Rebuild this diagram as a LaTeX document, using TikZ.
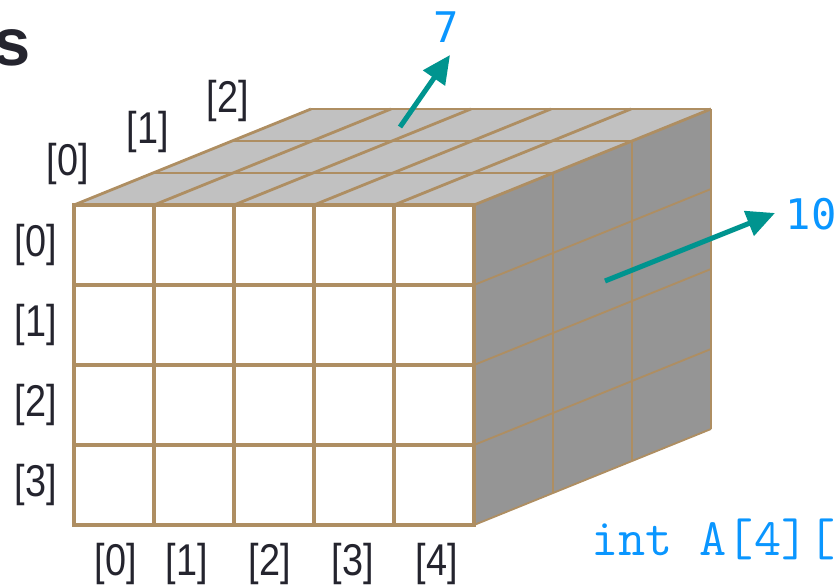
\documentclass[tikz,border=0pt]{standalone}
\usepackage{fontspec}
\setmainfont{Liberation Sans}
\newfontfamily\lblfont[FakeStretch=0.85]{Liberation Sans}
\newfontfamily\numfont{DejaVu Sans Mono}
\usetikzlibrary{arrows.meta}

\definecolor{framebrown}{HTML}{AE8E62}
\definecolor{topgray}{HTML}{C1C1C1}
\definecolor{sidegray}{HTML}{959595}
\definecolor{arrowteal}{HTML}{00948F}
\definecolor{sizeblue}{HTML}{0A96FF}
\definecolor{labelgray}{HTML}{24242E}

\begin{document}
\begin{tikzpicture}[x=0.03cm,y=-0.03cm,
  frontline/.style={draw=framebrown,line width=3.4pt,line cap=rect},
  topline/.style={draw=framebrown,line width=2.4pt},
  sideline/.style={draw=framebrown,line width=1.6pt},
  idx/.style={text=labelgray,font=\lblfont\fontsize{38}{40}\selectfont,inner sep=0pt},
  sizelbl/.style={text=sizeblue,font=\numfont\fontsize{36}{38}\selectfont,inner sep=0pt},
  sizearrow/.style={draw=arrowteal,line width=4.3pt,-{Triangle[length=24pt,width=22pt]}}]

\useasboundingbox (0,0) rectangle (838,585);

% Parameters
\def\cw{80}
\def\dx{79}
\def\dy{-32}

% Right face
\fill[sidegray] (474,205) -- ++(3*\dx,3*\dy) -- ++(0,320) -- (474,525) -- cycle;
\foreach \k in {1,2,3}
  \draw[sideline] (474+\k*\dx,205+\k*\dy) -- ++(0,320);
\foreach \j in {1,2,3,4}
  \draw[sideline] (474,205+\j*\cw) -- ++(3*\dx,3*\dy);

% Top face
\fill[topgray] (74,205) -- (474,205) -- ++(3*\dx,3*\dy) -- (74+3*\dx,205+3*\dy) -- cycle;
\foreach \k in {1,2,3}
  \draw[topline] (74+\k*\dx,205+\k*\dy) -- ++(400,0);
\foreach \i in {0,...,5}
  \draw[topline] (74+\i*\cw,205) -- ++(3*\dx,3*\dy);

% Front face
\fill[white] (74,205) rectangle (474,525);
\foreach \i in {0,...,5}
  \draw[frontline] (74+\i*\cw,205) -- ++(0,320);
\foreach \j in {0,...,4}
  \draw[frontline] (74,205+\j*\cw) -- ++(400,0);

% Index labels
\foreach \j in {0,...,3}
  \node[idx] (row\j) at (36,245+\j*\cw) {[\j]};
\foreach \i/\x in {0/116,1/187,2/270,3/353,4/437}
  \node[idx] (col\i) at (\x,564) {[\i]};
\node[idx] (dep0) at (68,164) {[0]};
\node[idx] (dep1) at (148,132) {[1]};
\node[idx] (dep2) at (228,101) {[2]};

% Sizes
\node[sizelbl] (seven) at (446,27) {7};
\node[sizelbl] (ten) at (811,214) {10};
\coordinate (t7) at (400,127);
\coordinate (h7) at (450,55);
\draw[sizearrow] (t7) -- (h7);
\coordinate (t10) at (605,281);
\coordinate (h10) at (775,213);
\draw[sizearrow] (t10) -- (h10);

% Title and declaration
\node[anchor=base east,inner sep=0pt,text=labelgray,font=\bfseries\fontsize{57}{60}\selectfont] (title) at (31,65) {s};
\node[anchor=base west,inner sep=0pt,text=sizeblue,font=\ttfamily\fontsize{45}{48}\selectfont] (decl) at (591,555) {int A[4][};

\end{tikzpicture}
\end{document}
